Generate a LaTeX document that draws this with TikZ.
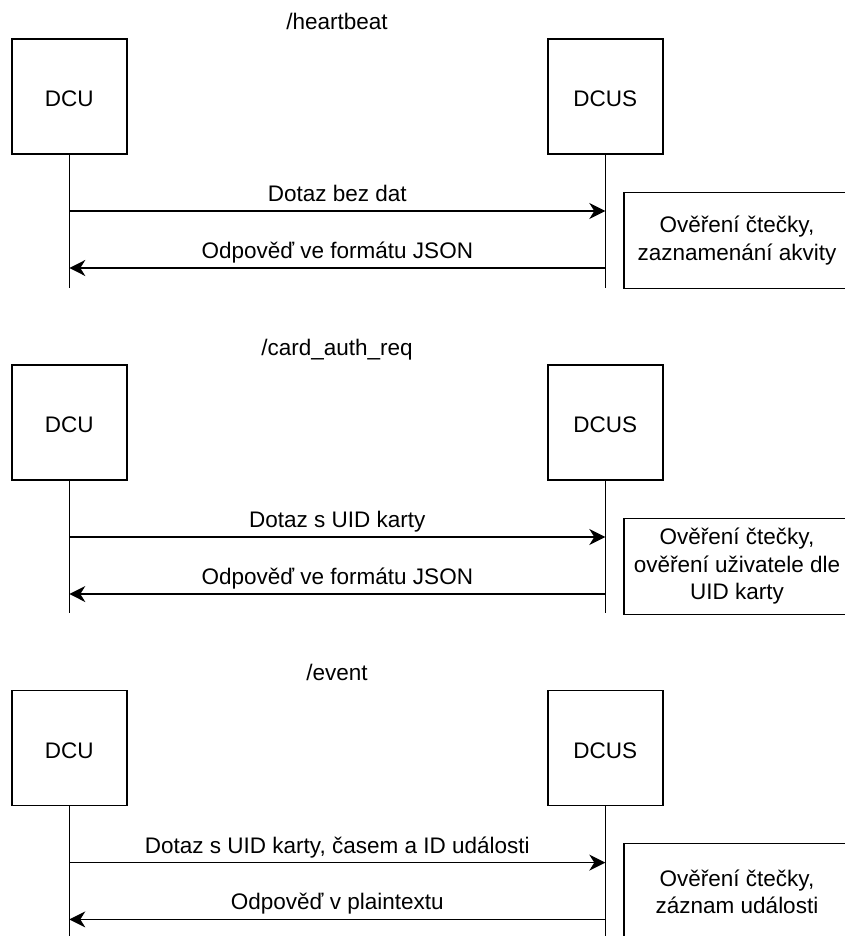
\documentclass[tikz,border=0pt]{standalone}
\usepackage{fontspec}
\setmainfont{Liberation Sans}
\usetikzlibrary{arrows.meta}
\begin{document}
\begin{tikzpicture}[x=1pt,y=-1pt,
  every node/.style={font=\fontsize{22.5}{27.5}\selectfont, inner sep=0pt},
  actor/.style={draw, line width=1.4pt, minimum width=115pt, minimum height=115pt, text height=20.5pt, text depth=0pt},
  note/.style={draw, line width=1.4pt, align=center, minimum width=226pt, minimum height=96pt},
  life/.style={line width=1.3pt},
  msg/.style={line width=1.3pt, -{Stealth[length=16pt,width=16pt,inset=5pt]}},
  lbl/.style={anchor=base, yshift=9.5pt},
  ttl/.style={anchor=base},
]
\useasboundingbox (0,0) rectangle (845,936);
\clip (0,0) rectangle (845,936);

% ---------- panel 1 ----------
\node[ttl] (t1) at (337,29.5) {/heartbeat};
\node[actor] (dcu1) at (69.3,96.7) {DCU};
\node[actor] (dcus1) at (605.3,96.7) {DCUS};
\coordinate (e1a) at (69.3,287.5);
\coordinate (e1b) at (605.3,287.5);
\coordinate (m1a) at (69.3,211);
\coordinate (m1b) at (605.3,211);
\coordinate (r1a) at (69.3,268);
\coordinate (r1b) at (605.3,268);
\draw[life] (dcu1.south) -- (e1a);
\draw[life] (dcus1.south) -- (e1b);
\draw[msg] (m1a) -- node[lbl] {Dotaz bez dat} (m1b);
\draw[msg] (r1b) -- node[lbl] {Odpověď ve formátu JSON} (r1a);
\node[note] (n1) at (737,240.3) {Ověření čtečky,\\zaznamenání akvity};

% ---------- panel 2 ----------
\node[ttl] (t2) at (337,355.2) {/card\_auth\_req};
\node[actor] (dcu2) at (69.3,422.4) {DCU};
\node[actor] (dcus2) at (605.3,422.4) {DCUS};
\coordinate (e2a) at (69.3,613.2);
\coordinate (e2b) at (605.3,613.2);
\coordinate (m2a) at (69.3,537);
\coordinate (m2b) at (605.3,537);
\coordinate (r2a) at (69.3,594);
\coordinate (r2b) at (605.3,594);
\draw[life] (dcu2.south) -- (e2a);
\draw[life] (dcus2.south) -- (e2b);
\draw[msg] (m2a) -- node[lbl] {Dotaz s UID karty} (m2b);
\draw[msg] (r2b) -- node[lbl] {Odpověď ve formátu JSON} (r2a);
\node[note] (n2) at (737,566.2) {Ověření čtečky,\\ověření uživatele dle\\UID karty};

% ---------- panel 3 ----------
\node[ttl] (t3) at (337,680.9) {/event};
\node[actor] (dcu3) at (69.3,748.1) {DCU};
\node[actor] (dcus3) at (605.3,748.1) {DCUS};
\coordinate (e3a) at (69.3,940);
\coordinate (e3b) at (605.3,940);
\coordinate (m3a) at (69.3,862.6);
\coordinate (m3b) at (605.3,862.6);
\coordinate (r3a) at (69.3,919.4);
\coordinate (r3b) at (605.3,919.4);
\draw[life] (dcu3.south) -- (e3a);
\draw[life] (dcus3.south) -- (e3b);
\draw[msg] (m3a) -- node[lbl] {Dotaz s UID karty, časem a ID události} (m3b);
\draw[msg] (r3b) -- node[lbl] {Odpověď v plaintextu} (r3a);
\node[note] (n3) at (737,891.7) {Ověření čtečky,\\záznam události};
\end{tikzpicture}
\end{document}
